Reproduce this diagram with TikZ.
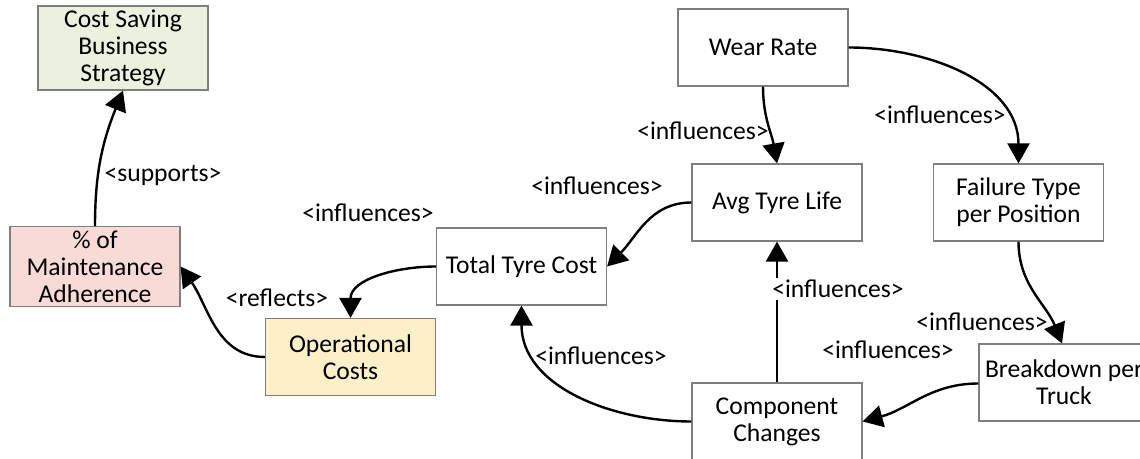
\documentclass[tikz,border=0pt]{standalone}
\usepackage{fontspec}
\setmainfont{Carlito}
\usetikzlibrary{arrows.meta}

\definecolor{boxgray}{HTML}{7F7F7F}
\definecolor{stratgreen}{HTML}{EBF1DE}
\definecolor{adherpink}{HTML}{F8DAD6}
\definecolor{opercream}{HTML}{FDF0C8}

\tikzset{
  factor/.style={draw=boxgray, line width=0.6pt, align=center, minimum width=85pt,
    minimum height=38.5pt, inner sep=2pt, font=\fontsize{12.8}{13.5}\selectfont},
  rel/.style={line width=1.2pt, -{Triangle[length=10pt, width=11pt]}},
  tag/.style={font=\fontsize{12.8}{13.5}\selectfont, inner sep=1pt}
}

\begin{document}
\begin{tikzpicture}[x=0.5pt, y=-0.5pt]
        \useasboundingbox (0,0) rectangle (1140,459);

        % Boxes.
        \node[factor, fill=stratgreen] (strategy) at (123,48) {Cost Saving\\Business\\Strategy};
        \node[factor, fill=adherpink] (adherence) at (95,266.5) {\% of\\Maintenance\\Adherence};
        \node[factor, fill=opercream] (opcosts) at (350.5,357) {Operational\\Costs};
        \node[factor] (tyrecost) at (521.5,266.5) {Total Tyre Cost};
        \node[factor] (wearrate) at (763,47.5) {Wear Rate};
        \node[factor] (tyrelife) at (777,202.5) {Avg Tyre Life};
        \node[factor] (failtype) at (1018.5,202.5) {Failure Type\\per Position};
        \node[factor] (breakdown) at (1064,382.5) {Breakdown per\\Truck};
        \node[factor] (compchg) at (777,421.5) {Component\\Changes};

        % Relations.
        \draw[rel] (adherence.north) to[out=90, in=-112] (strategy.south);
        \draw[rel] (opcosts.west) to[out=180, in=-55] (adherence.east);
        \draw[rel] (tyrecost.west) to[out=180, in=90] (opcosts.north);
        \draw[rel] (tyrelife.west) to[out=180, in=45] (tyrecost.east);
        \draw[rel] (compchg.west) to[out=180, in=-90] (tyrecost.south);
        \draw[rel] (compchg.north) -- (tyrelife.south);
        \draw[rel] (wearrate.south) to[out=-90, in=100] (tyrelife.north);
        \draw[rel] (wearrate.east) to[out=0, in=90] (failtype.north);
        \draw[rel] (failtype.south) to[out=-90, in=112] ([xshift=-1pt]breakdown.north);
        \draw[rel] ([yshift=-0.5pt]breakdown.west) to[out=180, in=15] (compchg.east);

        % Labels.
        \node[tag] (supportstag) at (163,175) {<supports>};
        \node[tag] (reflectstag) at (277,298) {<reflects>};
        \node[tag] (costtag) at (368,213) {<influences>};
        \node[tag] (lifecosttag) at (597,186) {<influences>};
        \node[tag] (compcosttag) at (601,356) {<influences>};
        \node[tag, fill=white] (complifetag) at (838,289) {<influences>};
        \node[tag] (weartag) at (703,131) {<influences>};
        \node[tag] (wearfailtag) at (940,115) {<influences>};
        \node[tag] (failtag) at (982,322) {<influences>};
        \node[tag] (breaktag) at (888,350) {<influences>};
    \end{tikzpicture}
\end{document}
